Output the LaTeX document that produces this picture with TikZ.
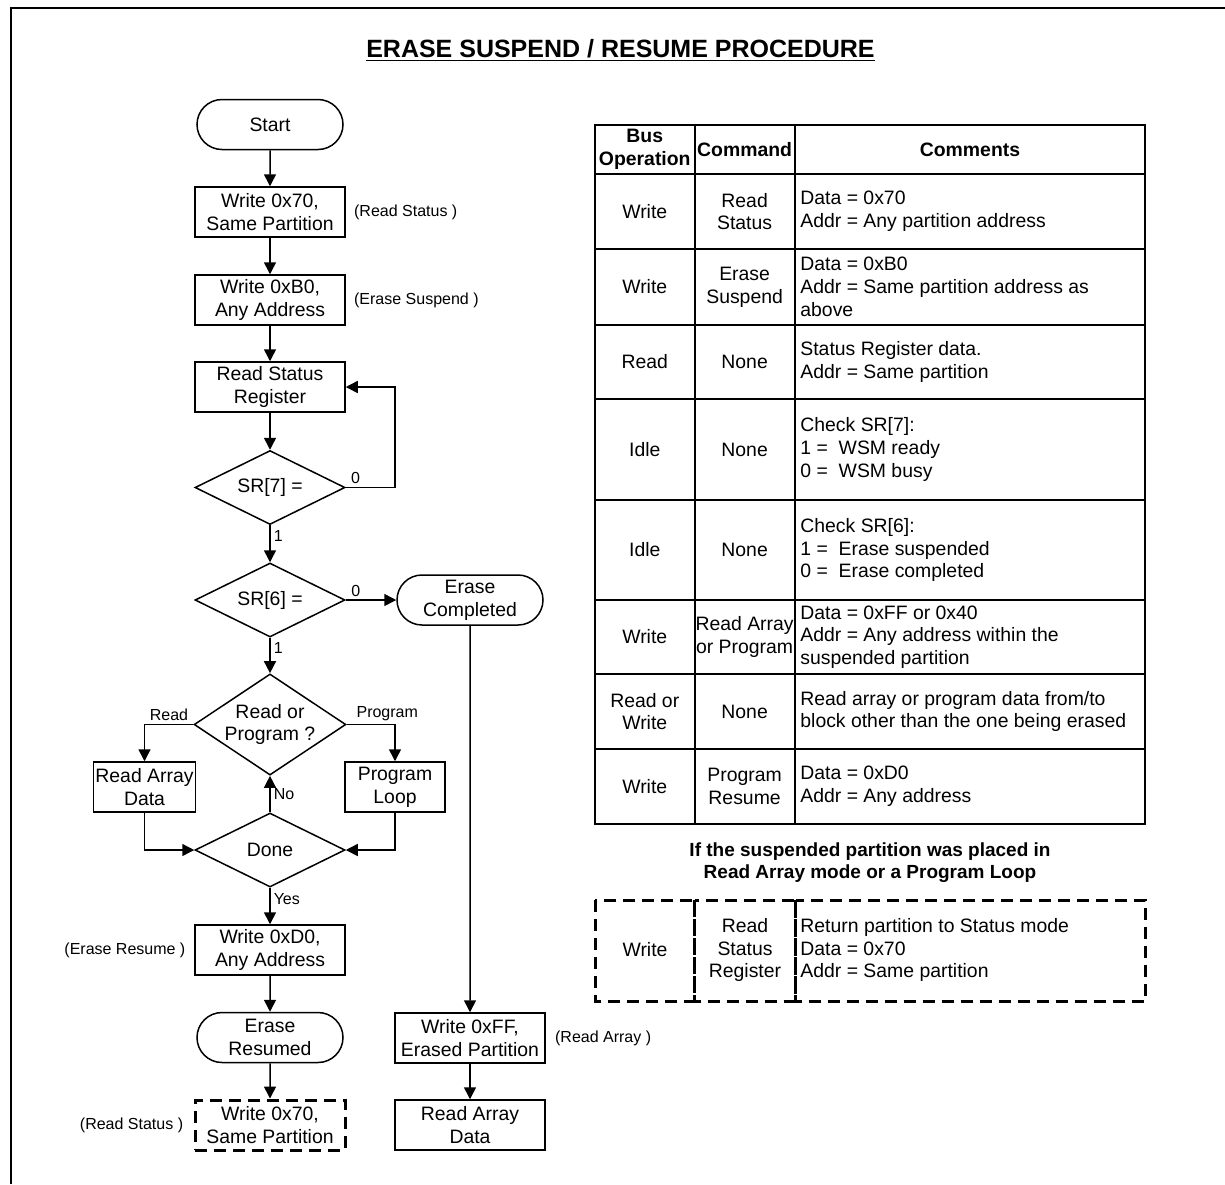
\documentclass[tikz,border=0pt]{standalone}
\usepackage{fontspec}
\setmainfont{Liberation Sans}
\usetikzlibrary{shapes.geometric,shapes.misc,arrows.meta,positioning}

\newcommand{\boxfont}{\fontsize{9.7}{11.35}\selectfont}
\newcommand{\tagfont}{\fontsize{8}{9.5}\selectfont}

\tikzset{
	proc/.style={draw, line width=0.75pt, minimum width=75pt, minimum height=25pt, inner sep=1pt, align=center, font=\boxfont},
	term/.style={proc, rounded rectangle},
	decide/.style={draw, diamond, line width=0.75pt, shape aspect=2, minimum width=75pt, minimum height=37pt, inner sep=0pt, align=center, font=\boxfont},
	tag/.style={font=\tagfont, inner sep=1.5pt},
	cell/.style={font=\boxfont, align=center, inner sep=0pt},
	note/.style={font=\boxfont, align=left, anchor=west, inner sep=0pt},
	flow/.style={line width=0.75pt, -{Triangle[length=6pt,width=6pt]}},
	tabline/.style={line width=1pt},
	dashbox/.style={line width=1.5pt, dash pattern=on 6pt off 3.5pt},
}

\begin{document}
\begin{tikzpicture}[x=0.5pt, y=-0.5pt, line join=miter]
	\useasboundingbox (0,0) rectangle (1225,1184);
	\draw[line width=1.2pt] (11,1184) -- (11,8) -- (1225,8);
	\node[font=\fontsize{12.5}{15}\selectfont\bfseries, anchor=base] (title) at (620.5,57) {\underline{ERASE SUSPEND / RESUME PROCEDURE}};

	% flow chart
	\node[term] (start) at (270,124.5) {Start};
	\node[proc] (w70) at (270,212) {Write 0x70,\\Same Partition};
	\node[proc] (wb0) at (270,300) {Write 0xB0,\\Any Address};
	\node[proc] (rsr) at (270,387) {Read Status\\Register};
	\node[decide] (sr7) at (270,487.5) {SR[7] =};
	\node[decide] (sr6) at (270,600) {SR[6] =};
	\node[term] (ec) at (470,600) {Erase\\Completed};
	\node[decide, shape aspect=1.5, minimum height=49.5pt] (rp) at (270,724.5) {Read or\\Program ?};
	\node[proc, minimum width=50pt] (rad) at (144.5,787) {Read Array\\Data};
	\node[proc, minimum width=50pt] (pl) at (395,787) {Program\\Loop};
	\node[decide] (done) at (270,850) {Done};
	\node[proc] (wd0) at (270,950) {Write 0xD0,\\Any Address};
	\node[term] (er) at (270,1037.5) {Erase\\Resumed};
	\node[proc, dashbox] (w70b) at (270,1125) {Write 0x70,\\Same Partition};
	\node[proc] (wff) at (470,1038) {Write 0xFF,\\Erased Partition};
	\node[proc] (rad2) at (470,1125) {Read Array\\Data};

	\node[tag, right=2.5pt of w70] (t1) {(Read Status )};
	\node[tag, right=2.5pt of wb0] (t2) {(Erase Suspend )};
	\node[tag, left=2.75pt of wd0] (t3) {(Erase Resume )};
	\node[tag, left=3.5pt of w70b] (t4) {(Read Status )};
	\node[tag, right=3pt of wff] (t5) {(Read Array )};

	\coordinate (lp) at (395,487.5);
	\draw[flow] (start) -- (w70);
	\draw[flow] (w70) -- (wb0);
	\draw[flow] (wb0) -- (rsr);
	\draw[flow] (rsr) -- (sr7);
	\draw[flow] (sr7.east) -- node[tag, above, pos=0.2] (l0a) {0} (lp) |- (rsr.east);
	\draw[flow] (sr7) -- node[tag, right, pos=0.3] (l1a) {1} (sr6);
	\draw[flow] (sr6) -- node[tag, above, pos=0.2] (l0b) {0} (ec);
	\draw[flow] (sr6) -- node[tag, right, pos=0.3] (l1b) {1} (rp);
	\draw[flow] (rp.west) -| node[tag, above, pos=0.25] (lrd) {Read} (rad.north);
	\draw[flow] (rp.east) -| node[tag, above, pos=0.42] (lpg) {Program} (pl.north);
	\draw[flow] (rad.south) |- (done.west);
	\draw[flow] (pl.south) |- (done.east);
	\draw[flow] (done) -- node[tag, right] (lno) {No} (rp);
	\draw[flow] (done) -- node[tag, right, pos=0.3] (lyes) {Yes} (wd0);
	\draw[flow] (wd0) -- (er);
	\draw[flow] (er) -- (w70b);
	\draw[flow] (ec) -- (wff);
	\draw[flow] (wff) -- (rad2);

	% table
	\draw[tabline] (595,125) rectangle (1145,824);
	\draw[tabline] (694.5,125) -- (694.5,824);
	\draw[tabline] (794.7,125) -- (794.7,824);
	\draw[tabline] (595,174) -- (1145,174);
	\draw[tabline] (595,249) -- (1145,249);
	\draw[tabline] (595,325) -- (1145,325);
	\draw[tabline] (595,399) -- (1145,399);
	\draw[tabline] (595,500) -- (1145,500);
	\draw[tabline] (595,600) -- (1145,600);
	\draw[tabline] (595,674) -- (1145,674);
	\draw[tabline] (595,749) -- (1145,749);

	\node[cell, font=\boxfont\bfseries] (h1) at (644.75,149.5) {Bus\\Operation};
	\node[cell, font=\boxfont\bfseries] (h2) at (744.6,149.5) {Command};
	\node[cell, font=\boxfont\bfseries] (h3) at (970,149.5) {Comments};

	\node[cell] (r1a) at (644.75,211.5) {Write};
	\node[cell] (r1b) at (744.6,211.5) {Read\\Status};
	\node[note] (r1c) at (800,211.5) {Data = 0x70\\Addr = Any partition address};

	\node[cell] (r2a) at (644.75,287) {Write};
	\node[cell] (r2b) at (744.6,287) {Erase\\Suspend};
	\node[note] (r2c) at (800,287) {Data = 0xB0\\Addr = Same partition address as\\above};

	\node[cell] (r3a) at (644.75,362) {Read};
	\node[cell] (r3b) at (744.6,362) {None};
	\node[note] (r3c) at (800,362) {Status Register data.\\Addr = Same partition};

	\node[cell] (r4a) at (644.75,449.5) {Idle};
	\node[cell] (r4b) at (744.6,449.5) {None};
	\node[note] (r4c) at (800,449.5) {Check SR[7]:\\1 = \ WSM ready\\0 = \ WSM busy};

	\node[cell] (r5a) at (644.75,550) {Idle};
	\node[cell] (r5b) at (744.6,550) {None};
	\node[note] (r5c) at (800,550) {Check SR[6]:\\1 = \ Erase suspended\\0 = \ Erase completed};

	\node[cell] (r6a) at (644.75,637) {Write};
	\node[cell] (r6b) at (744.6,637) {Read Array\\or Program};
	\node[note] (r6c) at (800,637) {Data = 0xFF or 0x40\\Addr = Any address within the\\suspended partition};

	\node[cell] (r7a) at (644.75,711.5) {Read or\\Write};
	\node[cell] (r7b) at (744.6,711.5) {None};
	\node[note] (r7c) at (800,711.5) {Read array or program data from/to\\block other than the one being erased};

	\node[cell] (r8a) at (644.75,786.5) {Write};
	\node[cell] (r8b) at (744.6,786.5) {Program\\Resume};
	\node[note] (r8c) at (800,786.5) {Data = 0xD0\\Addr = Any address};

	\node[font=\fontsize{9.5}{10.85}\selectfont\bfseries, align=center] (fn) at (870,862.5) {If the suspended partition was placed in\\Read Array mode or a Program Loop};

	% dashed row
	\draw[dashbox] (595,900) rectangle (694.7,1001);
	\draw[dashbox] (694.7,900) rectangle (795.5,1001);
	\draw[dashbox] (795.5,900) rectangle (1145,1001);
	\node[cell] (d1) at (645,950) {Write};
	\node[cell] (d2) at (745,950) {Read\\Status\\Register};
	\node[note] (d3) at (800,950) {Return partition to Status mode\\Data = 0x70\\Addr = Same partition};
\end{tikzpicture}
\end{document}
